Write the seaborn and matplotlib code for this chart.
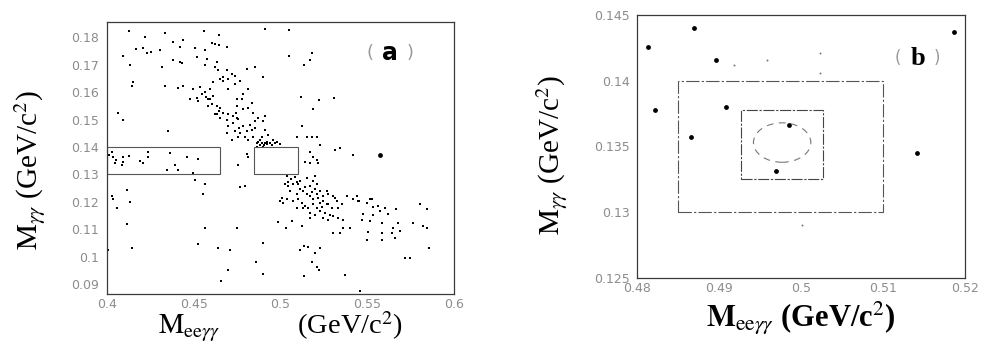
import matplotlib
matplotlib.use("Agg")
import matplotlib.pyplot as plt
import seaborn as sns
import pandas as pd
from matplotlib.patches import Rectangle, Ellipse
from matplotlib.ticker import MultipleLocator, FormatStrFormatter

sns.set_theme(style="white")
plt.rcParams["font.family"] = ["Liberation Serif", "DejaVu Serif"]
plt.rcParams["mathtext.fontset"] = "stix"

# ---- panel (a): M_gg versus M_eegg, wide window ----
a_x = [0.4129, 0.4334, 0.4559, 0.4647, 0.4911, 0.5049, 0.4219, 0.4382, 0.4440, 0.4507,
       0.4565, 0.4603, 0.4622, 0.4647, 0.4690, 0.4305, 0.4421, 0.4167, 0.4209, 0.4229,
       0.4254, 0.4090, 0.4133, 0.4315, 0.4382, 0.4421, 0.4430, 0.4517, 0.4574, 0.4565,
       0.4632, 0.4622, 0.4642, 0.4690, 0.4719, 0.4738, 0.4651, 0.4671, 0.4699, 0.4805,
       0.4853, 0.4897, 0.5049, 0.5135, 0.5170, 0.5183, 0.4334, 0.4142, 0.4148, 0.4411,
       0.4440, 0.4498, 0.4536, 0.4565, 0.4594, 0.4584, 0.4478, 0.4517, 0.4526, 0.4546,
       0.4571, 0.4594, 0.4613, 0.4584, 0.4603, 0.4632, 0.4651, 0.4671, 0.4699, 0.4747,
       0.4776, 0.4786, 0.4815, 0.4815, 0.4834, 0.4843, 0.4872, 0.4901, 0.4911, 0.4747,
       0.4728, 0.4763, 0.4786, 0.4805, 0.4834, 0.4767, 0.4795, 0.4815, 0.4843, 0.4863,
       0.4882, 0.4891, 0.4920, 0.4939, 0.4959, 0.4824, 0.4853, 0.4930, 0.4651, 0.4636,
       0.4690, 0.4699, 0.4738, 0.4719, 0.4757, 0.4690, 0.4738, 0.4751, 0.4782, 0.4767,
       0.4699, 0.4613, 0.4671, 0.5116, 0.5189, 0.5222, 0.5310, 0.5122, 0.5151, 0.5180,
       0.5208, 0.5093, 0.5228, 0.5314, 0.5343, 0.5420, 0.5170, 0.5189, 0.5208, 0.5218,
       0.5170, 0.5141, 0.4094, 0.4065, 0.4354, 0.4757, 0.4805, 0.4815, 0.4863, 0.4882,
       0.4911, 0.4997, 0.4978, 0.4853, 0.4911, 0.4013, 0.4037, 0.4052, 0.4046, 0.4090,
       0.4129, 0.4085, 0.4094, 0.4190, 0.4206, 0.4238, 0.4238, 0.4363, 0.4392, 0.4411,
       0.4463, 0.4526, 0.4498, 0.4344, 0.4029, 0.4507, 0.4565, 0.4555, 0.4767, 0.4795,
       0.4113, 0.4027, 0.4037, 0.4133, 0.4056, 0.4113, 0.4565, 0.4747, 0.4526, 0.4642,
       0.4709, 0.4008, 0.4142, 0.4699, 0.4655, 0.4859, 0.4901, 0.4897, 0.4988, 0.5032,
       0.5064, 0.5093, 0.5122, 0.5112, 0.5135, 0.5160, 0.5199, 0.5228, 0.5180, 0.5212,
       0.5224, 0.5135, 0.5372, 0.5458, 0.5718, 0.5746, 0.5766, 0.5497, 0.5583, 0.5660,
       0.5506, 0.5583, 0.5641, 0.5689, 0.5468, 0.5516, 0.5583, 0.5650, 0.5477, 0.5535,
       0.5573, 0.5622, 0.5449, 0.5497, 0.5525, 0.5564, 0.5602, 0.5362, 0.5343, 0.5305,
       0.5401, 0.5333, 0.5362, 0.5305, 0.5266, 0.5295, 0.5324, 0.5353, 0.5381, 0.5420,
       0.5439, 0.5026, 0.5045, 0.5074, 0.5093, 0.5112, 0.5141, 0.5170, 0.5189, 0.5208,
       0.5199, 0.5228, 0.5266, 0.5055, 0.5093, 0.5112, 0.5151, 0.5170, 0.5189, 0.5218,
       0.5247, 0.5276, 0.5305, 0.5314, 0.5228, 0.5189, 0.5160, 0.5132, 0.5170, 0.5199,
       0.5228, 0.5256, 0.5285, 0.5333, 0.5170, 0.5247, 0.5276, 0.5074, 0.5036, 0.5007,
       0.4997, 0.5016, 0.5103, 0.5122, 0.5141, 0.5199, 0.5084, 0.5151, 0.5036, 0.5059,
       0.5804, 0.5847, 0.5820, 0.5843, 0.5857, 0.5516, 0.5531, 0.5454, 0.5666, 0.5679,
       0.4872, 0.4891, 0.4905, 0.4924, 0.4949, 0.4968, 0.4897, 0.4728, 0.4743, 0.4757,
       0.4622, 0.4647, 0.5045, 0.5103, 0.5132, 0.5180, 0.5212, 0.5243, 0.5276, 0.5208,
       0.5237]
a_y = [0.1821, 0.1815, 0.1821, 0.1806, 0.1831, 0.1827, 0.1799, 0.1784, 0.1790, 0.1759,
       0.1753, 0.1778, 0.1774, 0.1772, 0.1765, 0.1753, 0.1765, 0.1757, 0.1759, 0.1741,
       0.1747, 0.1732, 0.1700, 0.1691, 0.1716, 0.1710, 0.1704, 0.1728, 0.1722, 0.1698,
       0.1710, 0.1691, 0.1679, 0.1679, 0.1667, 0.1660, 0.1648, 0.1642, 0.1648, 0.1685,
       0.1691, 0.1654, 0.1732, 0.1700, 0.1716, 0.1741, 0.1621, 0.1621, 0.1636, 0.1614,
       0.1621, 0.1611, 0.1617, 0.1599, 0.1611, 0.1574, 0.1574, 0.1580, 0.1568, 0.1593,
       0.1583, 0.1574, 0.1586, 0.1549, 0.1556, 0.1549, 0.1543, 0.1525, 0.1519, 0.1549,
       0.1574, 0.1537, 0.1543, 0.1611, 0.1562, 0.1525, 0.1506, 0.1494, 0.1512, 0.1506,
       0.1488, 0.1469, 0.1475, 0.1457, 0.1463, 0.1451, 0.1438, 0.1426, 0.1438, 0.1414,
       0.1426, 0.1438, 0.1420, 0.1414, 0.1426, 0.1481, 0.1494, 0.1444, 0.1506, 0.1519,
       0.1500, 0.1475, 0.1457, 0.1426, 0.1438, 0.1451, 0.1630, 0.1574, 0.1593, 0.1642,
       0.1611, 0.1636, 0.1654, 0.1583, 0.1537, 0.1572, 0.1577, 0.1475, 0.1436, 0.1438,
       0.1438, 0.1435, 0.1407, 0.1389, 0.1395, 0.1370, 0.1383, 0.1364, 0.1354, 0.1340,
       0.1340, 0.1346, 0.1500, 0.1525, 0.1457, 0.1333, 0.1374, 0.1364, 0.1401, 0.1407,
       0.1414, 0.1411, 0.1420, 0.1469, 0.1463, 0.1370, 0.1362, 0.1352, 0.1340, 0.1362,
       0.1367, 0.1333, 0.1346, 0.1349, 0.1342, 0.1383, 0.1364, 0.1377, 0.1333, 0.1315,
       0.1364, 0.1358, 0.1305, 0.1315, 0.1383, 0.1280, 0.1265, 0.1228, 0.1253, 0.1259,
       0.1243, 0.1222, 0.1210, 0.1201, 0.1179, 0.1120, 0.1107, 0.1107, 0.1046, 0.1033,
       0.1025, 0.1025, 0.1031, 0.0954, 0.0914, 0.0981, 0.0937, 0.1052, 0.1127, 0.1105,
       0.1130, 0.1179, 0.1111, 0.1025, 0.1041, 0.1037, 0.1016, 0.1033, 0.0981, 0.0963,
       0.0954, 0.0932, 0.0935, 0.0877, 0.0996, 0.0996, 0.1123, 0.1062, 0.1062, 0.1068,
       0.1090, 0.1086, 0.1086, 0.1093, 0.1136, 0.1130, 0.1123, 0.1105, 0.1157, 0.1154,
       0.1167, 0.1157, 0.1204, 0.1198, 0.1210, 0.1185, 0.1179, 0.1105, 0.1086, 0.1086,
       0.1105, 0.1142, 0.1136, 0.1148, 0.1191, 0.1179, 0.1204, 0.1191, 0.1222, 0.1210,
       0.1222, 0.1265, 0.1259, 0.1265, 0.1272, 0.1278, 0.1253, 0.1259, 0.1278, 0.1265,
       0.1247, 0.1241, 0.1241, 0.1241, 0.1228, 0.1247, 0.1228, 0.1222, 0.1210, 0.1216,
       0.1222, 0.1228, 0.1222, 0.1214, 0.1198, 0.1191, 0.1179, 0.1179, 0.1160, 0.1154,
       0.1167, 0.1160, 0.1154, 0.1179, 0.1142, 0.1142, 0.1136, 0.1204, 0.1210, 0.1216,
       0.1204, 0.1198, 0.1210, 0.1198, 0.1185, 0.1293, 0.1290, 0.1288, 0.1296, 0.1284,
       0.1191, 0.1173, 0.1111, 0.1105, 0.1031, 0.1210, 0.1183, 0.1204, 0.1173, 0.1123,
       0.1420, 0.1416, 0.1406, 0.1411, 0.1407, 0.1416, 0.1401, 0.1512, 0.1525, 0.1502,
       0.1519, 0.1531, 0.1272, 0.1265, 0.1241, 0.1235, 0.1228, 0.1204, 0.1191, 0.1179,
       0.1182]
a_big_x = [0.5573]
a_big_y = [0.1370]

# signal-region boxes (x0, x1, y0, y1)
a_box_side = [0.400, 0.465, 0.130, 0.140]
a_box_sig = [0.485, 0.510, 0.130, 0.140]

a_xticks = [0.40, 0.45, 0.50, 0.55, 0.60]
a_yticks = [0.09, 0.10, 0.11, 0.12, 0.13, 0.14, 0.15, 0.16, 0.17, 0.18]

# ---- panel (b): zoom around the kaon mass ----
b_x = [0.4869, 0.4813, 0.4896, 0.5187, 0.4822, 0.4909, 0.4866, 0.4985, 0.4970, 0.5142]
b_y = [0.1440, 0.1426, 0.1416, 0.1437, 0.1378, 0.1380, 0.1357, 0.1366, 0.1331, 0.1345]
b_faint_x = [0.4918, 0.4958, 0.5023, 0.5023, 0.5001]
b_faint_y = [0.1412, 0.1416, 0.1421, 0.1406, 0.1290]

b_box_mid = [0.485, 0.510, 0.130, 0.140]
b_box_sig = [0.4927, 0.5027, 0.1325, 0.1378]
b_ellipse = [0.4977, 0.1353, 0.0070, 0.0030]  # centre x, centre y, width, height

b_xticks = [0.48, 0.49, 0.50, 0.51, 0.52]
b_yticks = [0.125, 0.13, 0.135, 0.14, 0.145]

df_a = pd.DataFrame({"m_eegg": a_x, "m_gg": a_y})
df_a_big = pd.DataFrame({"m_eegg": a_big_x, "m_gg": a_big_y})
df_b = pd.DataFrame({"m_eegg": b_x, "m_gg": b_y})
df_b_faint = pd.DataFrame({"m_eegg": b_faint_x, "m_gg": b_faint_y})

fig = plt.figure(figsize=(9.88, 3.47), dpi=100)
ax_a = fig.add_axes([107 / 988, 53 / 347, 347 / 988, 272 / 347])
ax_b = fig.add_axes([637 / 988, 69 / 347, 328 / 988, 263 / 347])

frame_col = "#3a3a3a"
tick_col = "#8c8c8c"

sns.scatterplot(data=df_a, x="m_eegg", y="m_gg", ax=ax_a, s=4.5, marker="s",
                color="black", linewidth=0, legend=False)
sns.scatterplot(data=df_a_big, x="m_eegg", y="m_gg", ax=ax_a, s=12,
                color="black", linewidth=0, legend=False)

for x0, x1, y0, y1 in (a_box_side, a_box_sig):
    ax_a.add_patch(Rectangle((x0, y0), x1 - x0, y1 - y0, fill=False,
                             edgecolor="#555555", linewidth=0.8))

ax_a.set_xlim(0.40, 0.60)
ax_a.set_ylim(0.0865, 0.1855)
ax_a.set_xticks(a_xticks)
ax_a.set_yticks(a_yticks)
ax_a.xaxis.set_minor_locator(MultipleLocator(0.01))
ax_a.yaxis.set_minor_locator(MultipleLocator(0.002))
ax_a.xaxis.set_major_formatter(FormatStrFormatter("%g"))
ax_a.yaxis.set_major_formatter(FormatStrFormatter("%g"))

sns.scatterplot(data=df_b, x="m_eegg", y="m_gg", ax=ax_b, s=12,
                color="black", linewidth=0, legend=False)
sns.scatterplot(data=df_b_faint, x="m_eegg", y="m_gg", ax=ax_b, s=2,
                color="#777777", linewidth=0, legend=False)

x0, x1, y0, y1 = b_box_mid
ax_b.add_patch(Rectangle((x0, y0), x1 - x0, y1 - y0, fill=False,
                         edgecolor="#555555", linewidth=0.8, linestyle=(0, (12, 2, 2, 2))))
x0, x1, y0, y1 = b_box_sig
ax_b.add_patch(Rectangle((x0, y0), x1 - x0, y1 - y0, fill=False,
                         edgecolor="#444444", linewidth=0.8, linestyle=(0, (10, 1.5, 2, 1.5))))
ex, ey, ew, eh = b_ellipse
ax_b.add_patch(Ellipse((ex, ey), ew, eh, fill=False, edgecolor="#777777",
                       linewidth=0.8, linestyle=(0, (6, 5))))

ax_b.set_xlim(0.48, 0.52)
ax_b.set_ylim(0.125, 0.145)
ax_b.set_xticks(b_xticks)
ax_b.set_yticks(b_yticks)
ax_b.xaxis.set_minor_locator(MultipleLocator(0.002))
ax_b.yaxis.set_minor_locator(MultipleLocator(0.001))
ax_b.xaxis.set_major_formatter(FormatStrFormatter("%g"))
ax_b.yaxis.set_major_formatter(FormatStrFormatter("%g"))

for ax in (ax_a, ax_b):
    for side, sp in ax.spines.items():
        sp.set_visible(True)
        sp.set_color(frame_col)
        sp.set_linewidth(0.9)
    ax.tick_params(which="both", direction="in", color="#222222",
                   labelcolor=tick_col, labelsize=9)
    ax.tick_params(which="major", length=5, width=0.8)
    ax.tick_params(which="minor", length=2.5, width=0.7)
    for lab in ax.get_xticklabels() + ax.get_yticklabels():
        lab.set_family("DejaVu Sans")
    ax.grid(False)

ax_a.tick_params(axis="x", pad=3)
ax_a.tick_params(axis="y", pad=6)
ax_b.tick_params(axis="x", pad=3)
ax_b.tick_params(axis="y", pad=5)

# axis titles
ax_a.set_xlabel(r"$\mathrm{M}_{\mathrm{ee}\gamma\gamma}$           (GeV/c$^2$)",
                fontsize=20.5, color="black", labelpad=-1)
ax_a.set_ylabel(r"$\mathrm{M}_{\gamma\gamma}$ (GeV/c$^2$)", fontsize=21, color="black")
ax_a.yaxis.set_label_coords(-0.17, 0.456)

ax_b.set_xlabel(r"$\mathbf{M}_{\mathrm{ee}\gamma\gamma}$ (GeV/c$^2$)",
                fontsize=22, fontweight="bold", color="black", labelpad=3)
ax_b.set_ylabel(r"$\mathrm{M}_{\gamma\gamma}$ (GeV/c$^2$)", fontsize=21, color="black")
ax_b.yaxis.set_label_coords(-0.204, 0.468)

# panel tags
ax_a.text(0.758, 0.886, "(", transform=ax_a.transAxes, fontsize=13, color="#9a9a9a",
          ha="center", va="center", family="DejaVu Sans")
ax_a.text(0.816, 0.886, "a", transform=ax_a.transAxes, fontsize=17, color="black",
          ha="center", va="center", family="DejaVu Sans", fontweight="bold")
ax_a.text(0.873, 0.886, ")", transform=ax_a.transAxes, fontsize=13, color="#9a9a9a",
          ha="center", va="center", family="DejaVu Sans")

ax_b.text(0.796, 0.836, "(", transform=ax_b.transAxes, fontsize=12, color="#9a9a9a",
          ha="center", va="center", family="DejaVu Sans")
ax_b.text(0.857, 0.836, "b", transform=ax_b.transAxes, fontsize=19, color="black",
          ha="center", va="center", fontweight="bold")
ax_b.text(0.915, 0.836, ")", transform=ax_b.transAxes, fontsize=12, color="#9a9a9a",
          ha="center", va="center", family="DejaVu Sans")

fig.savefig("out.png", dpi=100, facecolor="white")
